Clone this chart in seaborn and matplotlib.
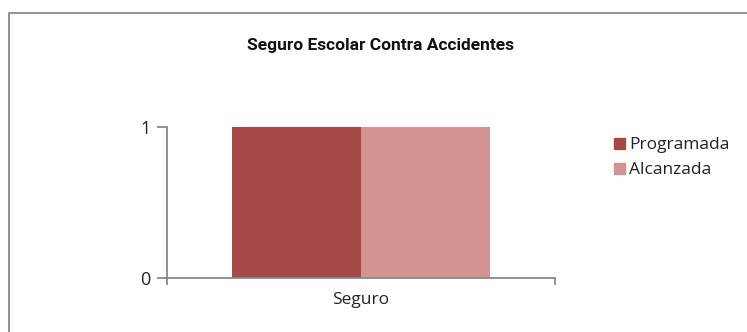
import seaborn as sns
import matplotlib.pyplot as plt
import pandas as pd
from matplotlib.patches import Rectangle

categories = ["Seguro"]
series = ["Programada", "Alcanzada"]
programada = [1]
alcanzada = [1]
y_ticks = [0, 1]

colors = ["#A84846", "#D39391"]

df = pd.DataFrame({
    "cat": categories * 2,
    "serie": [series[0]] * len(programada) + [series[1]] * len(alcanzada),
    "valor": programada + alcanzada,
})

sns.set_theme(style="white")
plt.rcParams['font.family'] = ['Open Sans', 'DejaVu Sans']

fig = plt.figure(figsize=(7.47, 3.32), dpi=100)
ax = fig.add_axes([0.2236, 0.1627, 0.5194, 0.4548])

sns.barplot(data=df, x="cat", y="valor", hue="serie", palette=colors,
            width=0.667, gap=0, saturation=1, linewidth=0, ax=ax, legend=False)

ax.set_xlim(-0.5, 0.5)
ax.set_ylim(0, 1)
ax.set_yticks(y_ticks)
ax.set_yticklabels([str(v) for v in y_ticks], fontsize=13, color="#222222")
ax.set_xticks([-0.5, 0.5], minor=True)
ax.set_xticks([0])
ax.set_xticklabels(categories, fontsize=12.5, color="#222222")
ax.tick_params(axis="x", which="major", length=0, pad=10)
ax.tick_params(axis="x", which="minor", length=5, width=1.3, color="#888888", direction="out", bottom=True)
ax.tick_params(axis="y", length=7, width=1.3, color="#888888", direction="out", left=True, pad=5)
ax.set_xlabel("")
ax.set_ylabel("")
for side in ["top", "right"]:
    ax.spines[side].set_visible(False)
for side in ["left", "bottom"]:
    ax.spines[side].set_color("#888888")
    ax.spines[side].set_linewidth(1.3)

fig.text(0.51, 0.864, "Seguro Escolar Contra Accidentes", ha="center", va="center",
         fontsize=12.5, fontweight="bold", color="#111111", family=["Roboto", "DejaVu Sans"])

# legend
handles = [Rectangle((0, 0), 1, 1, color=c) for c in colors]
fig.legend(handles, series, loc="upper left", bbox_to_anchor=(0.811, 0.612),
           frameon=False, fontsize=12.5, handlelength=0.6, handleheight=0.6,
           handletextpad=0.25, labelspacing=0.5, borderpad=0, labelcolor="#222222")

# chart area border (only top/left visible in the crop)
fig.add_artist(Rectangle((9 / 747, -0.1), 1.2, 1 - 13 / 332 + 0.1, transform=fig.transFigure,
                         fill=False, edgecolor="#888888", linewidth=1.3))

fig.savefig("out.png", dpi=100)
